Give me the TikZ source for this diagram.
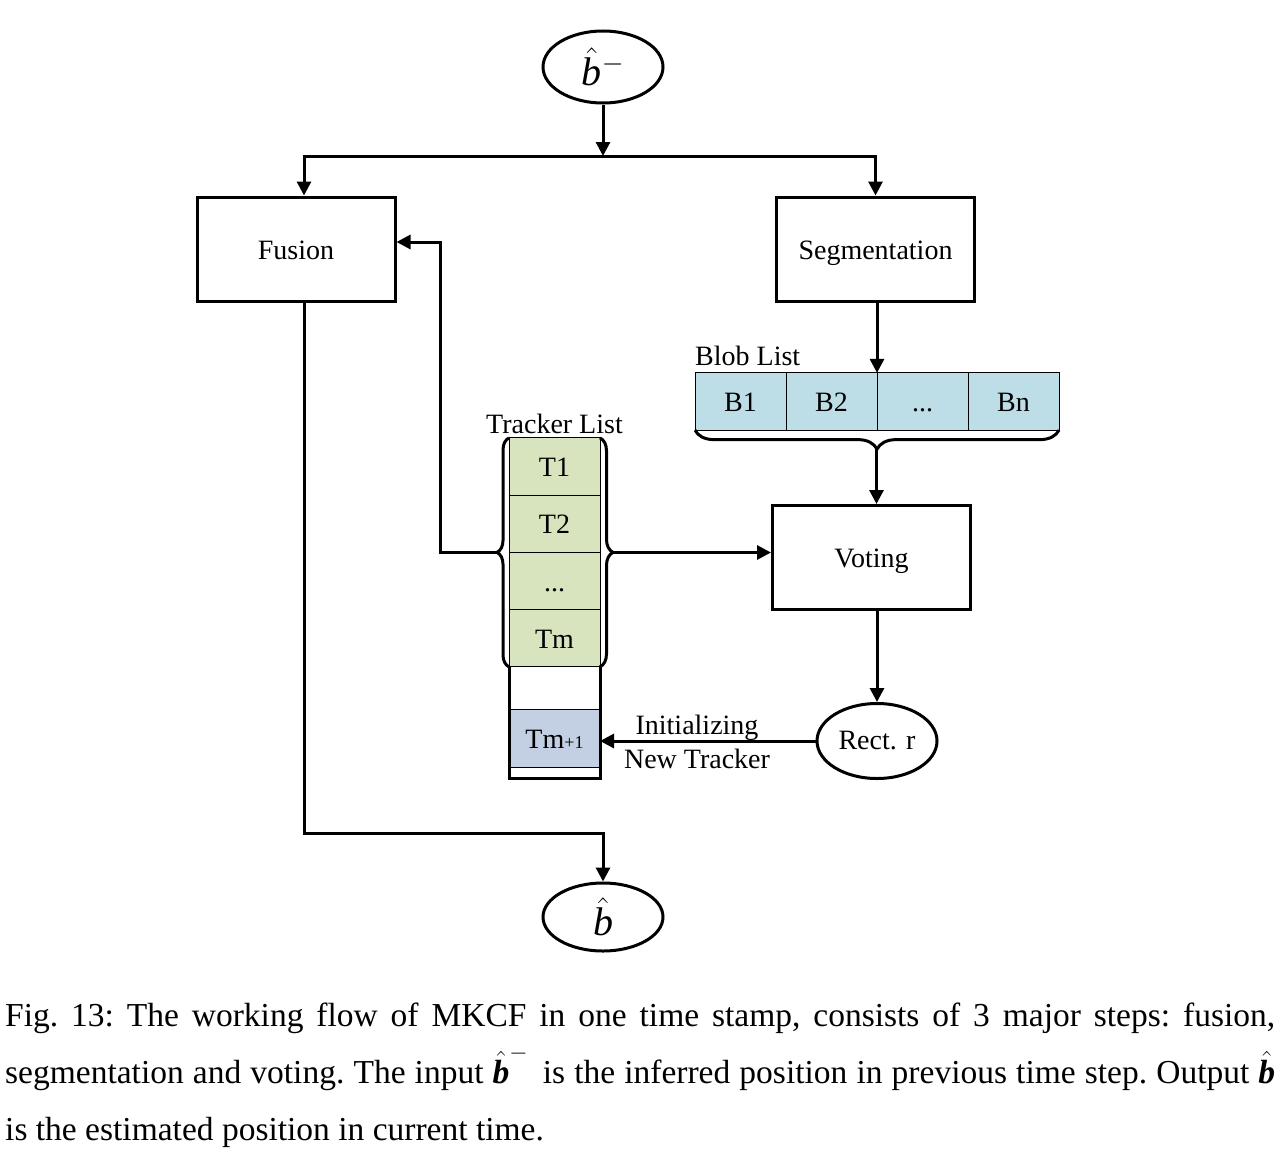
\RequirePackage{fix-cm}
\documentclass[tikz,border=0pt]{standalone}
\usepackage{amsmath}
\usepackage{xcolor}
\usepackage{fontspec}
\setmainfont{Liberation Serif}
\usepackage{tikz}
\usetikzlibrary{positioning,shapes,arrows.meta,decorations.pathreplacing}
\definecolor{trkgreen}{HTML}{D7E4BD}
\definecolor{blobblue}{HTML}{BDDDE7}
\definecolor{newblue}{HTML}{C3CFE2}
\newcommand{\bit}{\text{\itshape b}}
\newcommand{\bbit}{\text{\bfseries\itshape b}}
\tikzset{every node/.style={font=\fontsize{28}{32}\selectfont},
	stepbox/.style={draw, line width=3pt, minimum width=198pt, minimum height=104pt, text height=20pt, text depth=0pt},
	endpt/.style={draw, ellipse, line width=3pt, minimum width=120pt, minimum height=72pt},
	cell/.style={draw, line width=1pt, outer sep=0pt, minimum width=91pt, minimum height=57.25pt, text height=20pt, text depth=0pt},
	arr/.style={line width=3pt, -{Triangle[length=14pt,width=14pt]}},
	wire/.style={line width=3pt},
	bracket/.style={line width=3pt, decorate, decoration={brace, amplitude=#1}}}

\begin{document}
\begin{tikzpicture}[x=1pt, y=-1pt]
	\useasboundingbox (0,0) rectangle (1284,1164);
	% steps
	\node[endpt, inner sep=0pt, font=\fontsize{40}{44}\selectfont] (bin) at (603,67) {$\hat{\bit}{}^{-}$};
	\node[stepbox] (fusion) at (296,249) {Fusion};
	\node[stepbox] (seg) at (875.5,249) {Segmentation};
	\node[stepbox] (voting) at (871.5,557.5) {Voting};
	\node[endpt, minimum height=75pt] (rect) at (877,741) {Rect. r};
	\node[endpt, inner sep=0pt, minimum height=68pt, font=\fontsize{40}{44}\selectfont] (bout) at (603,917) {$\hat{\bit}$};
	% blob list
	\node[cell, fill=blobblue] (b1) at (740.5,401.5) {B1};
	\node[cell, fill=blobblue, right=0pt of b1] (b2) {B2};
	\node[cell, fill=blobblue, right=0pt of b2] (b3) {...};
	\node[cell, fill=blobblue, right=0pt of b3] (bn) {Bn};
	\node[anchor=south west, inner xsep=0pt, inner ysep=7pt] (bloblbl) at (b1.north west) {Blob List};
	% tracker list
	\node[cell, fill=trkgreen] (t1) at (554.5,466.5) {T1};
	\node[cell, fill=trkgreen, below=0pt of t1] (t2) {T2};
	\node[cell, fill=trkgreen, below=0pt of t2] (t3) {...};
	\node[cell, fill=trkgreen, below=0pt of t3] (tm) {Tm};
	\node[cell, fill=newblue, minimum height=58pt] (tnew) at (554.5,738) {Tm{\fontsize{18}{18}\selectfont+1}};
	\node[anchor=south, inner xsep=0pt, inner ysep=4pt] (trklbl) at (t1.north) {Tracker List};
	\coordinate (stackbot) at (554.5,778);
	\draw[wire] (tm.south west) |- (stackbot) -| (tm.south east);
	% braces
	\draw[bracket=12] (tm.south west) -- (t1.north west);
	\draw[bracket=13] (t1.north east) -- (tm.south east);
	\draw[bracket=19] (bn.south east) -- (b1.south west);
	\coordinate (trkL) at (497,552.5);
	\coordinate (trkR) at (613,552.5);
	\coordinate (blobB) at (876.5,449);
	% connectors
	\coordinate (split) at (603,156);
	\coordinate (splitL) at (304,156);
	\coordinate (merge) at (304,833);
	\coordinate (fb) at (440,242);
	\draw[arr] (bin) -- (split);
	\draw[arr] (split) -| (splitL |- fusion.north);
	\draw[arr] (split) -| (seg.north);
	\draw[arr] (fusion.south -| merge) -- (merge) -| (bout.north);
	\draw[arr] (trkL) -| (fb) -- (fb -| fusion.east);
	\draw[arr] (trkR) -- (trkR -| voting.west);
	\draw[arr] (seg.south -| b2.north east) -- (b2.north east);
	\draw[arr] (blobB) -- (blobB |- voting.north);
	\draw[arr] (voting.south -| rect.north) -- (rect.north);
	\draw[arr] (rect.west) -- (rect.west -| tnew.east);
	\node[align=center, font=\fontsize{28}{34}\selectfont] (initlbl) at (697,742) {Initializing\\New Tracker};
	% caption
	\node[anchor=base west, text width=1270pt, align=justify, inner sep=0pt, font=\fontsize{33.5}{57}\selectfont\frenchspacing] (caption) at (5,1026) {Fig.~13: The working flow of MKCF in one time stamp, consists of 3 major steps: fusion,\linebreak segmentation and voting. The input $\hat{\bbit}^{-}$\, is the inferred position in previous time step. Output $\hat{\bbit}$\linebreak is the estimated position in current time.};
\end{tikzpicture}
\end{document}
